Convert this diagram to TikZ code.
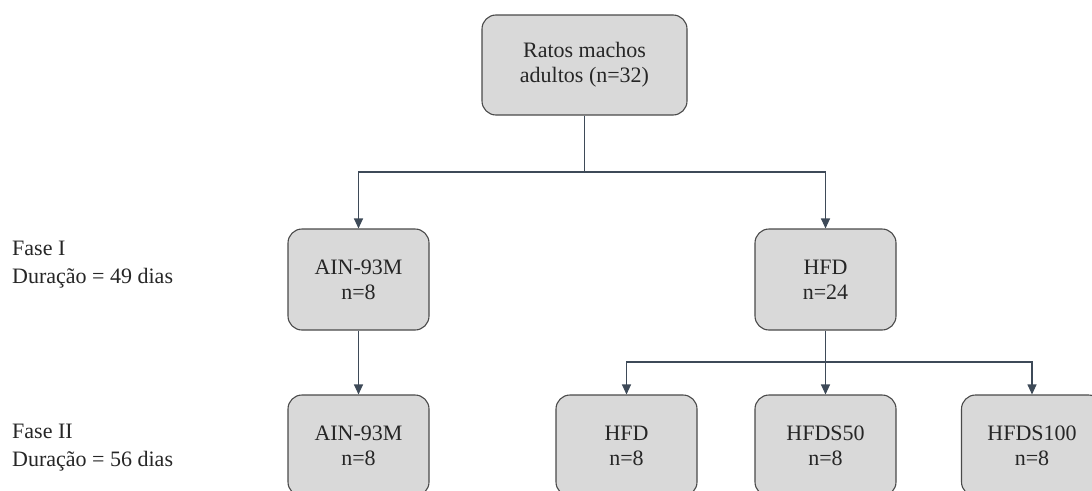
\documentclass[tikz,border=0pt]{standalone}
\usepackage{fontspec}
\setmainfont{Liberation Serif}
\usetikzlibrary{arrows.meta}
\definecolor{boxfill}{HTML}{D9D9D9}
\definecolor{boxline}{HTML}{4A4A4A}
\definecolor{connline}{HTML}{3E4A58}
\tikzset{
  grp/.style={draw=boxline, line width=1.1pt, fill=boxfill, rounded corners=14pt,
    minimum width=141pt, minimum height=101pt, align=center, inner sep=0pt,
    font=\fontsize{22}{25}\selectfont, text=black!85},
  conn/.style={draw=connline, line width=1.1pt},
  arr/.style={conn, -{Triangle[length=10pt,width=9pt]}},
  lbl/.style={anchor=north west, align=left, inner sep=0pt,
    font=\fontsize{22}{28}\selectfont, text=black!85}
}
\begin{document}
\begin{tikzpicture}[x=1pt,y=-1pt]
\useasboundingbox (0,0) rectangle (1092,490);
\clip (0,0) rectangle (1092,490);
\fill[white] (0,0) rectangle (1092,490);
\node[grp, minimum width=205pt, minimum height=100pt] (top) at (584.5,65) {Ratos machos\\adultos (n=32)};
\node[grp] (ain1) at (358.5,279.5) {AIN-93M\\n=8};
\node[grp] (hfd1) at (825.5,279.5) {HFD\\n=24};
\node[grp] (ain2) at (358.5,445.5) {AIN-93M\\n=8};
\node[grp] (hfd2) at (626.5,445.5) {HFD\\n=8};
\node[grp] (hfds50) at (825.5,445.5) {HFDS50\\n=8};
\node[grp] (hfds100) at (1032,445.5) {HFDS100\\n=8};
\node[lbl] (f1) at (12,241) {Fase I\\Duração = 49 dias};
\node[lbl] (f2) at (12,424) {Fase II\\Duração = 56 dias};
\coordinate (s1) at (584.5,172);
\coordinate (s2) at (825.5,362);
\draw[conn] (top.south) -- (s1);
\draw[arr] (s1) -| (ain1.north);
\draw[arr] (s1) -| (hfd1.north);
\draw[arr] (ain1.south) -- (ain2.north);
\draw[conn] (hfd1.south) -- (s2);
\draw[arr] (s2) -| (hfd2.north);
\draw[arr] (s2) -- (hfds50.north);
\draw[arr] (s2) -| (hfds100.north);
\end{tikzpicture}
\end{document}
